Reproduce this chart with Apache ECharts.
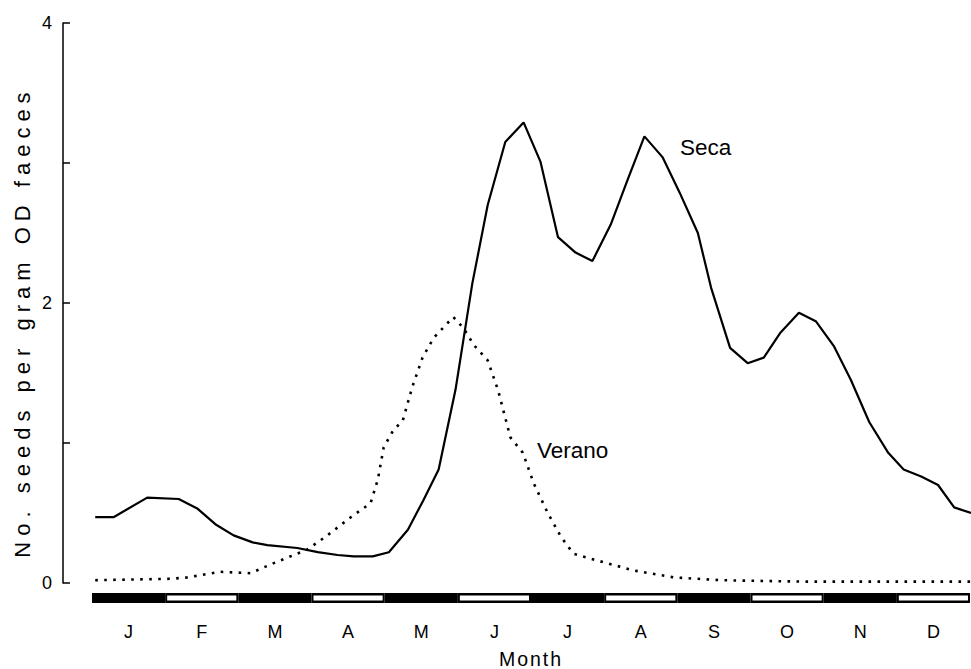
<!DOCTYPE html>
<html>
<head>
<meta charset="utf-8">
<script src="https://cdn.jsdelivr.net/npm/echarts@6/dist/echarts.min.js"></script>
<style>
  html, body { margin: 0; padding: 0; background: #fff; }
  #chart { width: 971px; height: 669px; }
  #chart text[style*="22px"] { letter-spacing: 6px; }
  #chart text[style*="19.5px"] { letter-spacing: 2px; }
</style>
</head>
<body>
<div id="chart"></div>
<script>
// ---- data (x in months from start of January, y in seeds per gram) ----
var monthLabels = ['J', 'F', 'M', 'A', 'M', 'J', 'J', 'A', 'S', 'O', 'N', 'D'];
var yTickLabels = { 0: '0', 2: '2', 4: '4' };

var secaMonth = [0.04, 0.29, 0.75, 1.18, 1.44, 1.68, 1.93, 2.19, 2.39, 2.80, 3.08, 3.35, 3.57, 3.83,
  4.05, 4.31, 4.52, 4.73, 4.96, 5.19, 5.40, 5.64, 5.89, 6.12, 6.36, 6.60, 6.83, 7.08, 7.31, 7.54,
  7.79, 8.02, 8.27, 8.45, 8.71, 8.95, 9.17, 9.40, 9.65, 9.88, 10.13, 10.36, 10.61, 10.87, 11.08,
  11.32, 11.55, 11.77, 12.00];
var secaValue = [0.47, 0.47, 0.61, 0.60, 0.53, 0.42, 0.34, 0.29, 0.27, 0.25, 0.22, 0.20, 0.19, 0.19,
  0.22, 0.38, 0.59, 0.81, 1.38, 2.14, 2.70, 3.15, 3.29, 3.01, 2.47, 2.36, 2.30, 2.56, 2.88, 3.19,
  3.04, 2.79, 2.50, 2.11, 1.68, 1.57, 1.61, 1.79, 1.93, 1.87, 1.69, 1.45, 1.15, 0.93, 0.81,
  0.76, 0.70, 0.54, 0.50];

var veranoMonth = [0.04, 1.07, 1.30, 1.75, 2.16, 2.47, 2.94, 3.21, 3.53, 3.80, 3.90, 3.98, 4.11, 4.24,
  4.37, 4.51, 4.66, 4.93, 5.07, 5.21, 5.40, 5.54, 5.71, 5.88, 6.03, 6.22, 6.40, 6.57, 6.90, 7.39,
  7.94, 8.58, 9.68, 10.77, 12.00];
var veranoValue = [0.02, 0.03, 0.04, 0.08, 0.07, 0.14, 0.24, 0.34, 0.47, 0.57, 0.74, 0.97, 1.09, 1.16,
  1.40, 1.61, 1.75, 1.90, 1.82, 1.70, 1.59, 1.38, 1.04, 0.93, 0.71, 0.50, 0.33, 0.21, 0.16, 0.09,
  0.04, 0.02, 0.01, 0.01, 0.01];

function pairs(xs, ys) { return xs.map(function (x, i) { return [x, ys[i]]; }); }

var FONT = '"Liberation Sans", Arial, Helvetica, sans-serif';
var chart = echarts.init(document.getElementById('chart'), null, { renderer: 'svg' });

function renderMonthBand(params, api) {
  var i = api.value(0);
  var top = api.coord([i, 1]);
  var bottom = api.coord([i, 0]);
  var w = api.size([1, 0])[0];
  var x = top[0] - w / 2, y = top[1], h = bottom[1] - top[1];
  var children = [{ type: 'rect', shape: { x: x, y: y, width: w, height: h }, style: { fill: '#000' } }];
  if (i % 2 === 1) {
    children.push({ type: 'rect', shape: { x: x + 2, y: y + 2.5, width: w - 4, height: h - 5 },
      style: { fill: '#fff' } });
  }
  return { type: 'group', children: children };
}

chart.setOption({
  animation: false,
  backgroundColor: '#fff',
  grid: [
    { left: 63, right: 0, top: 23, bottom: 86, containLabel: false, outerBoundsMode: 'none' },
    { left: 92, right: 1, top: 593, height: 10, containLabel: false, outerBoundsMode: 'none' }
  ],
  xAxis: [
    { gridIndex: 0, type: 'value', min: -0.4, max: 12, show: false },
    {
      gridIndex: 1, type: 'category', data: monthLabels, boundaryGap: true,
      axisLine: { show: false }, axisTick: { show: false },
      axisLabel: { margin: 20, color: '#000', fontSize: 18, fontFamily: FONT },
      name: 'Month', nameLocation: 'middle', nameGap: 46,
      nameTextStyle: { color: '#000', fontSize: 19.5, fontFamily: FONT }
    }
  ],
  yAxis: [
    {
      gridIndex: 0, type: 'value', min: 0, max: 4, interval: 1,
      axisLine: { show: true, onZero: false, lineStyle: { color: '#000', width: 1.5 } },
      axisTick: { show: true, inside: true, length: 7, lineStyle: { color: '#000', width: 1.5 } },
      splitLine: { show: false },
      axisLabel: {
        margin: 11, color: '#000', fontSize: 18, fontFamily: FONT,
        formatter: function (v) { return yTickLabels[v] !== undefined ? yTickLabels[v] : ''; }
      }
    },
    { gridIndex: 1, type: 'value', min: 0, max: 1, show: false }
  ],
  graphic: [
    {
      type: 'text', x: 22, y: 322, rotation: Math.PI / 2,
      style: { text: 'No. seeds per gram OD faeces', fill: '#000', font: '22px ' + FONT,
        textAlign: 'center', textVerticalAlign: 'middle' }
    },
    {
      type: 'text', left: 680, top: 136,
      style: { text: 'Seca', fill: '#000', font: '22.5px ' + FONT }
    },
    {
      type: 'text', left: 537, top: 439,
      style: { text: 'Verano', fill: '#000', font: '22.5px ' + FONT }
    }
  ],
  series: [
    {
      name: 'Seca', type: 'line', xAxisIndex: 0, yAxisIndex: 0,
      data: pairs(secaMonth, secaValue), symbol: 'none', smooth: false,
      lineStyle: { color: '#000', width: 2.2 }
    },
    {
      name: 'Verano', type: 'line', xAxisIndex: 0, yAxisIndex: 0,
      data: pairs(veranoMonth, veranoValue), symbol: 'none', smooth: false,
      lineStyle: { color: '#000', width: 2.6, type: [2.6, 6.4] }
    },
    {
      name: 'months', type: 'custom', xAxisIndex: 1, yAxisIndex: 1,
      renderItem: renderMonthBand,
      data: monthLabels.map(function (m, i) { return [i, 1]; })
    }
  ]
});
</script>
</body>
</html>
